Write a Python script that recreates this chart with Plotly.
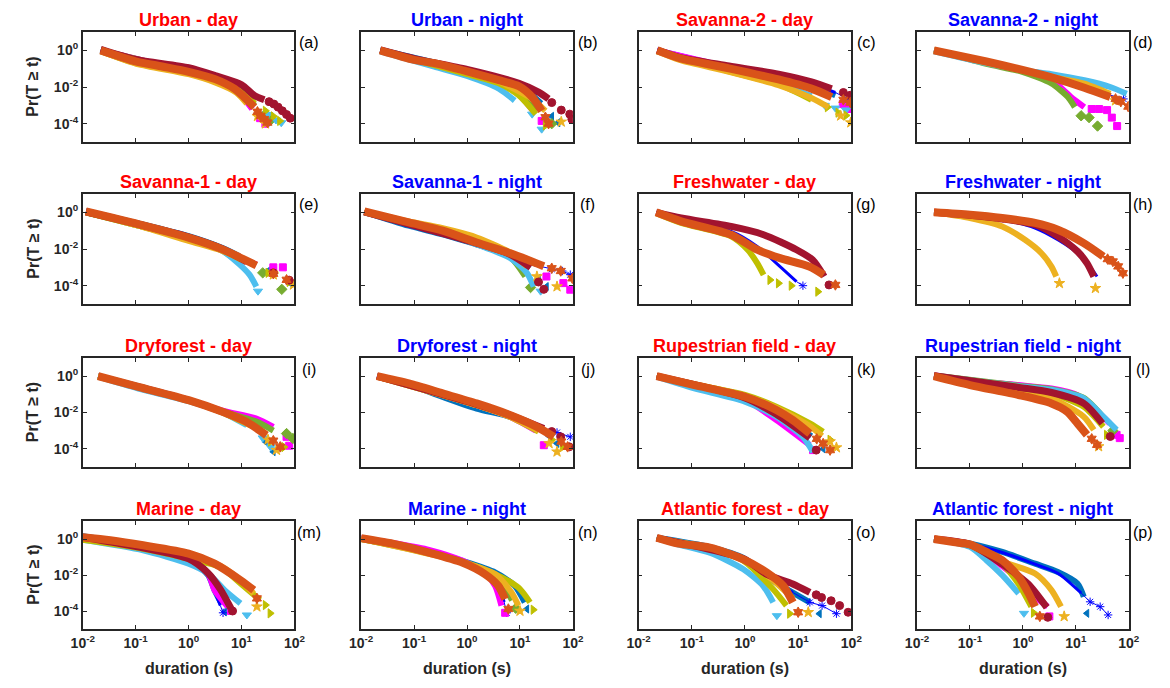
import plotly.graph_objects as go

# ---------------- data ----------------
# Every value is a log10 exponent: duration exponent (x) and Pr(T >= t) exponent (y).
# Each series: (body_x, body_y, tail_x, tail_y); body = dense band, tail = sparse end points.
TITLES = ["Urban - day", "Urban - night", "Savanna-2 - day", "Savanna-2 - night",
          "Savanna-1 - day", "Savanna-1 - night", "Freshwater - day", "Freshwater - night",
          "Dryforest - day", "Dryforest - night", "Rupestrian field - day", "Rupestrian field - night",
          "Marine - day", "Marine - night", "Atlantic forest - day", "Atlantic forest - night"]
LETTERS = list("abcdefghijklmnop")
X_TICKS = [0.01, 0.1, 1, 10, 100]
X_TICK_TEXT = ["10<sup>-2</sup>", "10<sup>-1</sup>", "10<sup>0</sup>", "10<sup>1</sup>", "10<sup>2</sup>"]
Y_TICKS = [1e-4, 1e-2, 1]
Y_TICK_TEXT = ["10<sup>-4</sup>", "10<sup>-2</sup>", "10<sup>0</sup>"]

P_A = {
    "blue": ([-1.66, -1.0, 0.0, 0.5, 0.9, 1.2], [0.05, -0.55, -1.02, -1.45, -2.0, -2.8], [1.4, 1.5], [-3.5, -3.9]),
    "magenta": ([-1.66, 0.0, 0.9, 1.2], [0.0, -1.2, -2.2, -3.2], [1.35, 1.45], [-3.7, -4.0]),
    "green": ([-1.66, 0.0, 0.9, 1.25], [0.0, -1.2, -2.15, -3.0], [1.45, 1.55], [-3.5, -3.8]),
    "lightblue": ([-1.66, -1.0, 0.0, 0.5, 0.9, 1.2], [-0.03, -0.68, -1.25, -1.7, -2.2, -2.9], [1.5, 1.65, 1.75], [-3.5, -3.8, -3.95]),
    "olive": ([-1.66, -1.0, 0.0, 0.5, 0.95, 1.25], [-0.05, -0.7, -1.25, -1.68, -2.2, -2.9], [1.45, 1.6, 1.72], [-3.3, -3.6, -3.85]),
    "yellow": ([-1.66, -1.0, 0.0, 0.5, 0.9, 1.1], [-0.05, -0.72, -1.3, -1.75, -2.3, -2.9], [1.3, 1.45], [-3.6, -4.0]),
    "darkred": ([-1.66, -1.0, 0.0, 0.5, 1.0, 1.24, 1.43], [0.05, -0.5, -0.95, -1.38, -1.88, -2.46, -2.7], [1.52, 1.61, 1.69, 1.77, 1.85, 1.92], [-2.8, -2.93, -3.1, -3.3, -3.5, -3.7]),
    "orange": ([-1.66, -1.0, -0.5, 0.0, 0.5, 0.87, 1.05, 1.24], [0.0, -0.6, -0.88, -1.17, -1.57, -2.1, -2.55, -3.1], [1.3, 1.36, 1.43, 1.49], [-3.35, -3.57, -3.75, -3.94]),
}
P_B = {
    "blue": ([-1.64, 0.0, 0.98, 1.4], [0.02, -1.1, -1.9, -2.9], [1.6, 1.72], [-3.6, -3.95]),
    "magenta": ([-1.64, 0.0, 0.9, 1.25], [0.0, -1.25, -2.2, -3.3], [1.41], [-3.85]),
    "green": ([-1.64, 0.0, 0.98, 1.35], [0.0, -1.2, -2.1, -3.2], [1.6], [-4.0]),
    "lightblue": ([-1.64, -0.62, 0.0, 0.6, 0.9], [-0.05, -0.89, -1.4, -2.09, -2.74], [1.23, 1.41], [-3.48, -4.3]),
    "olive": ([-1.64, -0.62, 0.0, 0.6, 0.98, 1.3], [-0.03, -0.8, -1.3, -1.8, -2.46, -3.48], [1.48], [-4.1]),
    "yellow": ([-1.64, 0.0, 0.6, 1.23, 1.48], [-0.02, -1.2, -1.7, -2.65, -3.3], [1.78], [-3.9]),
    "darkred": ([-1.64, -1.0, 0.0, 0.98, 1.35, 1.54], [0.02, -0.45, -1.04, -1.8, -2.28, -2.65], [1.6, 1.78, 1.94, 1.98], [-2.85, -3.26, -3.48, -3.76]),
    "orange": ([-1.64, -1.0, -0.62, 0.0, 0.6, 0.98, 1.23, 1.41], [0.0, -0.52, -0.7, -1.15, -1.63, -1.96, -2.55, -3.3], [1.48, 1.54], [-3.65, -4.0]),
}
P_C = {
    "blue": ([-1.65, -0.3, 0.63, 1.25, 1.7], [0.0, -0.95, -1.5, -1.95, -2.45], [1.95], [-2.75]),
    "pureblue": ([-1.65, -0.3, 0.63, 1.25, 1.7], [0.02, -0.88, -1.4, -1.85, -2.3], [1.9, 2.0], [-2.6, -2.83]),
    "magenta": ([-1.65, -0.3, 0.63, 1.25, 1.6], [0.0, -0.92, -1.5, -2.0, -2.5], [1.84, 1.98], [-2.93, -3.2]),
    "lightblue": ([-1.65, -0.3, 0.63, 1.25], [-0.05, -1.12, -1.81, -2.5], [1.5, 1.7, 1.9], [-3.0, -3.15, -3.25]),
    "olive": ([-1.65, -0.3, 0.63, 1.25], [-0.05, -1.15, -1.85, -2.7], [1.55, 1.75, 1.9], [-3.1, -3.4, -3.55]),
    "yellow": ([-1.65, -1.23, -0.3, 0.63, 1.25, 1.57], [-0.05, -0.52, -1.17, -1.9, -2.6, -3.1], [1.8, 1.99], [-3.57, -3.94]),
    "darkred": ([-1.65, -1.23, -0.3, 0.63, 1.25, 1.63], [0.02, -0.38, -0.85, -1.3, -1.72, -2.1], [1.85, 1.98], [-2.3, -2.45]),
    "orange": ([-1.65, -1.23, -0.3, 0.63, 1.25, 1.63], [0.0, -0.43, -0.98, -1.59, -2.09, -2.55], [1.85, 1.98], [-2.7, -2.85]),
}
P_D = {
    "pureblue": ([-1.68, 0.54, 1.16, 1.6], [0.0, -1.45, -1.9, -2.4], [1.9], [-2.65]),
    "magenta": ([-1.68, -0.01, 0.54, 0.91, 1.16], [0.0, -1.12, -1.63, -2.55, -3.1], [1.3, 1.44, 1.59, 1.68, 1.78], [-3.2, -3.2, -3.26, -3.67, -4.13]),
    "green": ([-1.68, -0.69, -0.01, 0.54, 0.85, 0.98], [0.02, -0.74, -1.17, -1.81, -2.55, -3.1], [1.1, 1.25, 1.41], [-3.57, -3.67, -4.13]),
    "lightblue": ([-1.68, -0.69, -0.01, 0.54, 1.16, 1.65, 1.96], [-0.05, -0.7, -1.08, -1.3, -1.63, -2.0, -2.37], [], []),
    "yellow": ([-1.68, -0.01, 0.54, 1.16, 1.65], [-0.02, -1.1, -1.45, -1.81, -2.37], [1.75], [-2.74]),
    "orange": ([-1.68, -0.69, -0.01, 0.54, 1.16, 1.65], [0.0, -0.61, -1.07, -1.48, -2.04, -2.55], [1.75, 1.85, 1.99], [-2.65, -2.8, -3.07]),
}
P_E = {
    "blue": ([-1.94, -0.95, 0.0, 0.64, 0.96], [0.07, -0.6, -1.3, -1.95, -2.4], [1.5, 1.92], [-3.2, -3.86]),
    "magenta": ([-1.94, 0.0, 0.64, 1.0, 1.28], [0.03, -1.35, -2.0, -2.5, -2.84], [1.6, 1.78], [-3.0, -3.0]),
    "green": ([-1.94, 0.0, 0.64, 0.96], [0.0, -1.45, -2.1, -2.75], [1.4, 1.76], [-3.3, -4.2]),
    "lightblue": ([-1.94, 0.0, 0.64, 0.96, 1.15, 1.28], [0.0, -1.45, -2.1, -2.84, -3.4, -4.05], [1.31], [-4.3]),
    "olive": ([-1.94, 0.0, 0.64, 1.0], [0.0, -1.45, -2.05, -2.6], [1.5, 1.9], [-3.3, -3.8]),
    "yellow": ([-1.94, -0.95, 0.0, 0.64, 1.0], [0.0, -0.73, -1.56, -2.1, -2.55], [1.6, 1.98], [-3.4, -3.95]),
    "darkred": ([-1.94, 0.0, 0.64, 1.1], [0.03, -1.35, -2.0, -2.7], [1.6, 1.9], [-3.3, -3.7]),
    "orange": ([-1.94, -0.95, 0.0, 0.64, 0.96, 1.28], [0.05, -0.64, -1.38, -2.02, -2.45, -2.9], [1.6, 1.85], [-3.35, -3.68]),
}
P_F = {
    "blue": ([-1.94, -1.1, -0.46, 0.18, 0.82, 1.2], [0.03, -0.73, -1.2, -1.75, -2.3, -3.0], [1.35, 1.5], [-3.6, -4.05]),
    "pureblue": ([-1.94, -1.1, -0.46, 0.18, 0.82, 1.3], [0.03, -0.75, -1.22, -1.75, -2.3, -2.9], [1.6, 1.8, 1.95], [-3.1, -3.2, -3.4]),
    "magenta": ([-1.94, 0.18, 0.82, 1.2], [0.03, -1.65, -2.25, -2.9], [1.5, 1.82, 1.95], [-3.5, -3.86, -4.22]),
    "green": ([-1.94, -0.46, 0.18, 0.82, 1.1], [0.0, -1.1, -1.72, -2.45, -3.5], [1.2], [-4.1]),
    "lightblue": ([-1.94, -0.46, 0.18, 0.82, 1.13, 1.26], [0.0, -1.1, -1.75, -2.5, -3.3, -4.05], [1.39], [-4.3]),
    "yellow": ([-1.94, -1.1, -0.46, 0.18, 0.82, 1.13], [0.05, -0.5, -0.87, -1.37, -2.2, -2.94], [1.32, 1.7], [-3.5, -4.05]),
    "darkred": ([-1.94, 0.18, 0.82, 1.2], [0.03, -1.68, -2.3, -3.0], [1.35, 1.45], [-3.8, -4.2]),
    "orange": ([-1.94, -1.1, -0.46, 0.18, 0.82, 1.13, 1.45], [0.05, -0.55, -1.0, -1.65, -2.24, -2.57, -2.94], [1.6, 1.77, 1.99], [-3.05, -3.2, -3.6]),
}
P_G = {
    "pureblue": ([-1.67, -1.2, -0.26, 0.23, 0.66, 0.97], [0.0, -0.4, -1.04, -1.86, -2.96, -3.78], [1.09], [-4.0]),
    "olive": ([-1.67, -1.2, -0.26, 0.05, 0.23, 0.35], [-0.05, -0.58, -1.31, -2.04, -2.77, -3.41], [0.47, 0.63, 0.87, 1.37], [-3.69, -3.87, -4.0, -4.33]),
    "darkred": ([-1.67, -1.2, -0.26, 0.35, 0.97, 1.27, 1.49], [0.0, -0.31, -0.77, -1.22, -2.04, -2.59, -3.5], [1.58], [-3.96]),
    "orange": ([-1.67, -1.2, -0.26, 0.23, 0.66, 1.21, 1.48], [0.0, -0.49, -1.22, -2.04, -2.5, -2.96, -3.41], [1.7], [-3.96]),
}
P_H = {
    "pureblue": ([-1.68, -1.0, -0.39, 0.23, 0.66, 1.03, 1.27, 1.4], [0.0, -0.18, -0.4, -0.86, -1.5, -2.23, -2.96, -3.5], [], []),
    "yellow": ([-1.68, -1.0, -0.39, 0.04, 0.35, 0.54, 0.63], [0.0, -0.31, -0.77, -1.5, -2.23, -2.96, -3.5], [0.69, 1.37], [-3.87, -4.14]),
    "darkred": ([-1.68, -1.0, -0.39, 0.23, 0.66, 1.03, 1.21, 1.34], [0.0, -0.16, -0.36, -0.68, -1.31, -2.13, -2.77, -3.5], [], []),
    "orange": ([-1.68, -1.0, -0.39, 0.23, 0.66, 1.15, 1.52], [0.0, -0.13, -0.31, -0.58, -0.95, -1.68, -2.41], [1.6, 1.7, 1.8, 1.89], [-2.55, -2.68, -2.95, -3.32]),
}
P_I = {
    "blue": ([-1.71, 0.0, 0.64, 1.2], [0.02, -1.3, -1.95, -2.7], [1.45, 1.6], [-3.6, -4.16]),
    "magenta": ([-1.71, 0.0, 0.64, 1.28, 1.6], [0.0, -1.3, -1.9, -2.33, -2.79], [1.85, 1.9], [-3.34, -3.83]),
    "green": ([-1.71, 0.0, 0.64, 1.28, 1.6], [0.0, -1.32, -1.95, -2.5, -3.0], [1.85, 1.97], [-3.16, -3.43]),
    "lightblue": ([-1.71, -0.95, 0.0, 0.64, 1.1], [-0.03, -0.68, -1.38, -2.0, -2.7], [1.4, 1.55], [-3.4, -3.9]),
    "olive": ([-1.71, 0.0, 0.64, 1.2], [-0.02, -1.35, -2.0, -2.75], [1.55, 1.8], [-3.6, -3.9]),
    "yellow": ([-1.71, 0.0, 0.64, 1.2], [-0.02, -1.35, -2.0, -2.75], [1.5, 1.66], [-3.5, -4.07]),
    "orange": ([-1.71, -0.95, 0.0, 0.64, 1.09, 1.47], [0.0, -0.59, -1.32, -1.96, -2.51, -3.25], [1.6, 1.73], [-3.55, -3.89]),
}
P_J = {
    "blue": ([-1.7, -1.1, -0.46, 0.18, 0.82, 1.32], [0.02, -0.45, -1.14, -1.78, -2.24, -2.9], [1.55, 1.7], [-3.3, -3.7]),
    "pureblue": ([-1.7, 0.18, 0.82, 1.45], [0.0, -1.55, -2.15, -2.95], [1.7, 1.95], [-3.1, -3.34]),
    "magenta": ([-1.7, 0.18, 0.82, 1.3], [0.0, -1.6, -2.25, -3.0], [1.45], [-3.8]),
    "olive": ([-1.7, 0.18, 0.82, 1.35], [-0.02, -1.6, -2.25, -3.05], [1.6, 1.8], [-3.5, -3.9]),
    "yellow": ([-1.7, 0.18, 0.82, 1.35], [-0.02, -1.6, -2.25, -3.0], [1.55, 1.7], [-3.7, -4.16]),
    "darkred": ([-1.7, 0.18, 0.82, 1.45], [0.0, -1.55, -2.15, -2.88], [1.6, 1.77, 1.93], [-3.05, -3.34, -3.89]),
    "orange": ([-1.7, -1.1, -0.46, 0.18, 0.82, 1.32, 1.64], [0.0, -0.4, -0.95, -1.5, -2.15, -2.79, -3.34], [1.78, 1.9], [-3.6, -3.89]),
}
P_K = {
    "blue": ([-1.66, 0.0, 0.59, 1.25], [0.0, -1.2, -2.05, -3.3], [1.47], [-4.0]),
    "magenta": ([-1.66, 0.0, 0.59, 1.22], [0.0, -1.3, -2.42, -3.8], [1.28], [-4.07]),
    "lightblue": ([-1.66, -0.97, 0.0, 0.59, 1.09, 1.28], [-0.03, -0.66, -1.4, -2.23, -3.34, -4.17], [], []),
    "olive": ([-1.66, -0.97, 0.0, 0.59, 1.22, 1.47], [0.02, -0.45, -1.03, -1.68, -2.6, -3.06], [1.6], [-3.5]),
    "yellow": ([-1.66, 0.0, 0.59, 1.22, 1.45], [0.0, -1.08, -1.75, -2.75, -3.3], [1.6, 1.72], [-3.6, -3.93]),
    "darkred": ([-1.66, 0.0, 0.59, 1.22], [0.0, -1.2, -2.1, -3.4], [1.34], [-4.07]),
    "orange": ([-1.66, -0.97, 0.0, 0.59, 0.9, 1.22], [0.0, -0.48, -1.13, -1.86, -2.42, -3.16], [1.35, 1.47, 1.6], [-3.45, -3.71, -4.07]),
}
P_L = {
    "magenta": ([-1.68, -1.0, -0.08, 0.54, 1.03, 1.34, 1.64], [0.05, -0.26, -0.49, -0.68, -1.04, -1.77, -2.6], [1.77, 1.83], [-3.23, -3.41]),
    "green": ([-1.68, -0.08, 0.54, 1.15, 1.5], [0.04, -0.52, -0.72, -1.2, -2.2], [1.7], [-3.0]),
    "lightblue": ([-1.68, -0.08, 0.54, 1.15, 1.52, 1.77], [0.03, -0.55, -0.75, -1.22, -2.23, -2.96], [], []),
    "olive": ([-1.68, -0.08, 0.54, 1.15, 1.52], [0.02, -0.6, -0.95, -1.68, -2.78], [1.58], [-3.23]),
    "yellow": ([-1.68, -0.08, 0.54, 1.15, 1.34], [0.0, -0.8, -1.22, -2.23, -2.96], [1.43], [-3.87]),
    "darkred": ([-1.68, -0.08, 0.54, 1.15, 1.5], [0.02, -0.62, -0.9, -1.5, -2.6], [1.65], [-3.32]),
    "orange": ([-1.68, -1.0, -0.08, 0.54, 0.84, 1.03, 1.21], [0.0, -0.49, -1.04, -1.5, -1.96, -2.6, -3.23], [1.3, 1.4], [-3.45, -3.78]),
}
P_M = {
    "blue": ([-2.0, -0.86, 0.0, 0.37, 0.49, 0.62], [0.15, -0.4, -1.1, -2.01, -2.84, -3.58], [0.68], [-4.04]),
    "pureblue": ([-2.0, -0.86, 0.0, 0.37, 0.49, 0.6], [0.12, -0.42, -1.15, -2.05, -2.9, -3.7], [0.65], [-4.1]),
    "magenta": ([-2.0, 0.0, 0.37, 0.49, 0.74], [0.1, -1.15, -1.95, -2.84, -3.76], [0.8], [-4.0]),
    "lightblue": ([-2.0, -0.86, 0.0, 0.37, 0.68, 0.98], [-0.05, -0.63, -1.37, -1.92, -2.84, -3.58], [1.1], [-4.22]),
    "olive": ([-2.0, -0.86, 0.0, 0.6, 0.98, 1.35], [-0.05, -0.55, -1.1, -1.55, -2.47, -3.39], [1.45, 1.54], [-3.67, -4.13]),
    "yellow": ([-2.0, 0.0, 0.6, 0.98, 1.23], [0.05, -0.95, -1.5, -2.3, -3.03], [1.29], [-3.76]),
    "darkred": ([-2.0, 0.0, 0.37, 0.6, 0.8], [0.1, -1.1, -1.9, -2.8, -3.86], [0.83], [-4.0]),
    "orange": ([-2.0, -1.48, -0.86, 0.0, 0.49, 0.98, 1.23], [0.1, -0.07, -0.35, -0.81, -1.37, -2.29, -2.84], [1.29], [-3.3]),
}
P_N = {
    "blue": ([-2.0, -0.72, -0.09, 0.53, 0.9, 1.09], [0.05, -0.68, -1.22, -1.86, -2.6, -3.52], [1.13], [-3.89]),
    "pureblue": ([-2.0, -0.09, 0.53, 0.7], [0.05, -1.2, -2.1, -3.5], [0.75], [-4.1]),
    "magenta": ([-2.0, -1.34, -0.72, -0.09, 0.34, 0.53, 0.65], [0.06, -0.25, -0.6, -1.2, -1.9, -2.6, -3.7], [0.72], [-4.1]),
    "green": ([-2.0, -0.09, 0.53, 0.85], [0.0, -1.25, -2.0, -3.4], [0.92], [-3.85]),
    "olive": ([-2.0, -0.72, -0.09, 0.53, 0.97, 1.19], [0.0, -0.75, -1.3, -1.96, -2.7, -3.52], [1.25], [-3.93]),
    "yellow": ([-2.0, -0.09, 0.53, 0.84, 0.97], [0.02, -1.28, -1.95, -2.97, -3.7], [1.0], [-4.0]),
    "orange": ([-2.0, -1.34, -0.72, -0.09, 0.34, 0.59, 0.72], [0.04, -0.3, -0.76, -1.31, -1.96, -2.6, -3.34], [0.78], [-3.89]),
}
P_O = {
    "blue": ([-1.66, -0.66, -0.03, 0.53, 1.22], [0.07, -0.45, -1.05, -2.32, -3.52], [1.4], [-4.15]),
    "pureblue": ([-1.66, -0.03, 0.53, 0.9], [0.05, -1.1, -2.3, -2.97], [1.22, 1.45, 1.72], [-3.52, -3.7, -4.15]),
    "lightblue": ([-1.66, -1.28, -0.66, -0.03, 0.34, 0.53], [0.05, -0.28, -0.76, -1.68, -2.6, -3.52], [0.6], [-4.26]),
    "olive": ([-1.66, -0.66, -0.03, 0.53, 0.78], [0.05, -0.55, -1.2, -2.79, -3.7], [0.84], [-4.15]),
    "yellow": ([-1.66, -0.66, -0.03, 0.53, 0.9], [0.05, -0.5, -1.15, -2.3, -3.3], [1.19], [-4.07]),
    "darkred": ([-1.66, -0.03, 0.41, 0.9, 1.22], [0.05, -1.1, -1.96, -2.5, -2.97], [1.34, 1.44, 1.62, 1.78, 1.94], [-3.1, -3.25, -3.43, -3.7, -4.07]),
    "orange": ([-1.66, -1.28, -0.66, -0.03, 0.41, 0.72, 0.9], [0.07, -0.24, -0.48, -1.13, -1.86, -2.6, -3.52], [1.0], [-4.07]),
}
P_P = {
    "blue": ([-1.68, -1.0, -0.39, 0.23, 0.66, 1.03, 1.15], [0.0, -0.26, -0.72, -1.37, -1.83, -2.47, -3.21], [1.21], [-4.13]),
    "pureblue": ([-1.68, -1.0, -0.39, 0.23, 0.66, 1.1], [0.0, -0.28, -0.75, -1.4, -1.9, -3.0], [1.27, 1.46, 1.61], [-3.49, -3.76, -4.22]),
    "magenta": ([-1.68, -1.0, -0.39, -0.1, 0.23, 0.47], [0.0, -0.3, -1.5, -2.2, -3.21, -3.76], [0.5], [-4.3]),
    "lightblue": ([-1.68, -1.0, -0.69, -0.39, -0.08], [0.0, -0.44, -1.18, -2.01, -3.03], [0.02], [-4.13]),
    "olive": ([-1.68, -1.0, -0.39, -0.08, 0.16], [0.0, -0.35, -1.4, -2.5, -3.76], [0.2], [-4.1]),
    "yellow": ([-1.68, -1.0, -0.39, 0.23, 0.54, 0.72], [0.0, -0.3, -1.25, -1.92, -2.84, -3.76], [0.78], [-4.3]),
    "darkred": ([-1.68, -1.0, -0.39, 0.1, 0.45], [0.0, -0.3, -1.4, -2.5, -3.8], [0.47], [-4.35]),
    "orange": ([-1.68, -1.31, -1.0, -0.69, -0.39, -0.08, 0.11, 0.23], [0.0, -0.17, -0.3, -0.72, -1.18, -2.1, -3.03, -3.76], [0.32], [-4.3]),
}
PANELS = [P_A, P_B, P_C, P_D, P_E, P_F, P_G, P_H, P_I, P_J, P_K, P_L, P_M, P_N, P_O, P_P]

# ---------------- styles ----------------
# colour, marker symbol, band width, tail marker size
STYLE = {
    "blue": ("#0072BD", "triangle-left", 6, 7),
    "pureblue": ("#0000FF", "asterisk-open", 3, 7),
    "magenta": ("#FF00FF", "square", 6, 7),
    "green": ("#77AC30", "diamond", 6, 8),
    "lightblue": ("#4DBEEE", "triangle-down", 6, 8),
    "olive": ("#BFBF00", "triangle-right", 6, 8),
    "yellow": ("#EDB120", "star", 6, 8),
    "darkred": ("#A2142F", "circle", 7, 8),
    "orange": ("#D95319", "hexagram", 8, 8),
}
ORDER = ["blue", "pureblue", "magenta", "green", "lightblue", "olive", "yellow", "darkred", "orange"]

W, H = 1170, 688
OFF = 8  # the page body adds an 8px margin; shift content to compensate
COL_PX = [(72, 288), (356, 572), (639, 856), (923, 1139)]
ROW_PX = [(32, 142), (194, 304), (358, 467), (521, 629)]
TXT = "#262626"
FONT = "Liberation Sans, Arial, Helvetica, sans-serif"


def px_x(p):
    return (p - OFF) / W


def px_y(p):
    return 1 - (p - OFF) / H


fig = go.Figure()
layout = {}
annotations = []

for i, panel in enumerate(PANELS):
    r, c = divmod(i, 4)
    xn = "x" if i == 0 else f"x{i+1}"
    yn = "y" if i == 0 else f"y{i+1}"
    for key in ORDER:
        if key not in panel:
            continue
        bx, by, tx, ty = panel[key]
        color, sym, lw, ms = STYLE[key]
        mline = dict(color=color, width=1)
        fig.add_trace(go.Scatter(
            x=[10 ** v for v in bx], y=[10 ** v for v in by], xaxis=xn, yaxis=yn,
            mode="lines", line=dict(color=color, width=lw, shape="spline", smoothing=0.7),
            hoverinfo="skip", showlegend=False))
        if tx:
            if key == "pureblue":
                # this series is drawn with a thin connecting line in the original
                fig.add_trace(go.Scatter(
                    x=[10 ** v for v in [bx[-1]] + tx], y=[10 ** v for v in [by[-1]] + ty],
                    xaxis=xn, yaxis=yn, mode="lines", line=dict(color=color, width=1),
                    hoverinfo="skip", showlegend=False))
            fig.add_trace(go.Scatter(
                x=[10 ** v for v in tx], y=[10 ** v for v in ty],
                xaxis=xn, yaxis=yn, mode="markers",
                marker=dict(symbol=sym, size=ms, color=color, opacity=1, line=mline),
                hoverinfo="skip", showlegend=False))

    x0, x1 = COL_PX[c]
    y0, y1 = ROW_PX[r]
    common = dict(showline=True, linewidth=1.6, linecolor=TXT, mirror="ticks", ticks="inside",
                  ticklen=4, tickwidth=1, tickcolor=TXT, showgrid=False, zeroline=False,
                  tickfont=dict(family=FONT, size=14, color=TXT))
    layout["xaxis" if i == 0 else f"xaxis{i+1}"] = dict(
        common, type="log", range=[-2, 2], domain=[px_x(x0), px_x(x1)], anchor=yn,
        tickvals=X_TICKS, ticktext=[f"<b>{t}</b>" for t in X_TICK_TEXT], showticklabels=(r == 3))
    layout["yaxis" if i == 0 else f"yaxis{i+1}"] = dict(
        common, type="log", range=[-5, 1], domain=[px_y(y1), px_y(y0)], anchor=xn,
        tickvals=Y_TICKS, ticktext=[f"<b>{t}</b>" for t in Y_TICK_TEXT], showticklabels=(c == 0))

    night = "night" in TITLES[i]
    annotations.append(dict(x=px_x((x0 + x1) / 2), y=px_y(y0 - 12), xref="paper", yref="paper",
                            text=f"<b>{TITLES[i]}</b>", showarrow=False, xanchor="center", yanchor="middle",
                            font=dict(family=FONT, size=18, color="#0000FF" if night else "#FF0000")))
    annotations.append(dict(x=px_x(x1 + 15), y=px_y(y0 + 11), xref="paper", yref="paper",
                            text=f"({LETTERS[i]})", showarrow=False, xanchor="center", yanchor="middle",
                            font=dict(family=FONT, size=16, color="#000000")))
    if c == 0:
        annotations.append(dict(x=px_x(21), y=px_y((y0 + y1) / 2), xref="paper", yref="paper",
                                text="<b>Pr(T \u2265 t)</b>", textangle=-90, showarrow=False,
                                xanchor="center", yanchor="middle",
                                font=dict(family=FONT, size=16, color=TXT)))
    if r == 3:
        annotations.append(dict(x=px_x((x0 + x1) / 2), y=px_y(668), xref="paper", yref="paper",
                                text="<b>duration (s)</b>", showarrow=False,
                                xanchor="center", yanchor="middle",
                                font=dict(family=FONT, size=16, color=TXT)))

fig.update_layout(width=W, height=H, autosize=False, margin=dict(l=0, r=0, t=0, b=0),
                  paper_bgcolor="white", plot_bgcolor="white", showlegend=False,
                  hovermode=False, annotations=annotations, **layout)
fig.write_html("out.html")
